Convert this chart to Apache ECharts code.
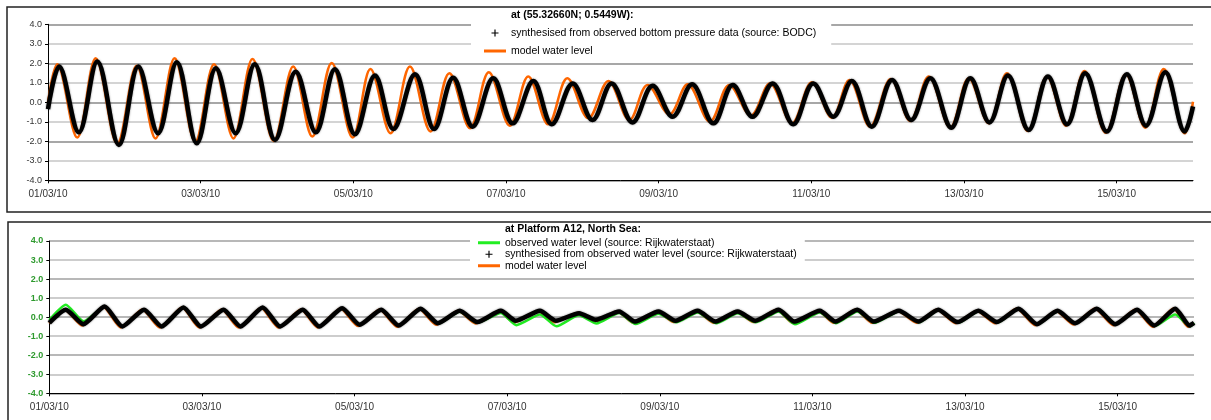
<!DOCTYPE html>
<html>
<head>
<meta charset="utf-8">
<script src="https://cdn.jsdelivr.net/npm/echarts@6/dist/echarts.min.js"></script>
<style>
  html, body { margin: 0; padding: 0; background: #fff; }
  #chart { width: 1211px; height: 420px; }
</style>
</head>
<body>
<div id="chart"></div>
<script>
// Time axis is in hours since 01/03/10 00:00; tide series are [hour, metres].
const tickLabels = ['01/03/10', '03/03/10', '05/03/10', '07/03/10', '09/03/10', '11/03/10', '13/03/10', '15/03/10'];
const hoursPerTick = 48;
const levelTicks = [-4, -3, -2, -1, 0, 1, 2, 3, 4];

const titleTop = 'at (55.32660N; 0.5449W):';
const titleA12 = 'at Platform A12, North Sea:';
const nameSynthTop = 'synthesised from observed bottom pressure data (source: BODC)';
const nameObsA12 = 'observed water level (source: Rijkwaterstaat)';
const nameSynthA12 = 'synthesised from observed water level (source: Rijkwaterstaat)';
const nameModel = 'model water level';

// 55.33N 0.54W: high and low waters
const synthTop = [[0,-0.35],[3.5,1.83],[9.7,-1.54],[15.5,2.09],[22.3,-2.19],[28.4,1.83],[34.6,-1.59],[40.5,2.05],[46.8,-2.10],[52.8,1.74],[59.0,-1.59],[65.0,1.95],[71.4,-1.93],[77.9,1.57],[84.2,-1.54],[90.2,1.70],[96.5,-1.64],[102.8,1.37],[108.6,-1.37],[115.4,1.44],[121.4,-1.37],[127.4,1.26],[133.5,-1.25],[140.0,1.23],[146.1,-1.08],[152.6,1.09],[158.4,-1.13],[165.0,0.97],[171.2,-0.91],[177.2,0.97],[183.8,-1.03],[190.1,0.85],[196.4,-0.74],[202.5,0.92],[209.2,-1.08],[215.3,0.89],[221.5,-0.74],[227.8,0.97],[234.3,-1.13],[240.6,0.97],[246.9,-0.74],[252.7,1.09],[259.0,-1.25],[265.4,1.15],[271.4,-0.91],[277.4,1.23],[284.0,-1.30],[290.0,1.23],[296.0,-1.03],[301.8,1.37],[308.3,-1.42],[314.4,1.32],[320.4,-1.13],[326.1,1.49],[332.9,-1.50],[339.2,1.44],[345.2,-1.20],[351.3,1.54],[357.4,-1.50],[360,-0.22]];
const modelTop = [[0,0.0],[2.9,1.95],[9.2,-1.81],[15.0,2.26],[21.8,-2.12],[27.9,1.88],[33.8,-1.85],[39.8,2.26],[46.3,-2.02],[52.2,1.95],[58.3,-1.85],[64.3,2.22],[71.0,-1.98],[77.1,1.83],[83.1,-1.76],[89.2,2.02],[95.8,-1.81],[101.4,1.71],[107.7,-1.59],[113.8,1.83],[120.3,-1.50],[126.2,1.49],[132.7,-1.33],[138.6,1.54],[145.2,-1.20],[151.0,1.32],[157.3,-1.13],[163.3,1.23],[169.9,-0.82],[176.2,1.09],[182.8,-0.91],[188.5,0.89],[195.4,-0.62],[201.1,0.92],[208.1,-0.99],[214.2,0.89],[221.0,-0.68],[227.0,0.97],[233.9,-1.08],[240.2,1.03],[246.5,-0.79],[252.0,1.15],[258.5,-1.25],[265.0,1.20],[271.1,-0.96],[276.9,1.32],[283.7,-1.30],[289.5,1.23],[295.8,-1.08],[301.5,1.49],[308.1,-1.47],[314.1,1.32],[320.1,-1.20],[325.9,1.61],[332.6,-1.56],[338.9,1.44],[345.0,-1.30],[350.8,1.71],[357.4,-1.59],[360,0.03]];

// Platform A12
const obsA12 = [[0,-0.15],[5.2,0.65],[10.8,-0.22],[17.4,0.55],[23.0,-0.47],[29.8,0.39],[35.3,-0.47],[42.2,0.52],[47.7,-0.47],[54.8,0.40],[60.1,-0.47],[67.1,0.50],[72.6,-0.47],[79.7,0.38],[84.9,-0.47],[92.1,0.46],[97.6,-0.40],[104.4,0.38],[109.9,-0.44],[116.8,0.42],[122.2,-0.35],[129.1,0.28],[134.6,-0.30],[142.0,0.22],[146.9,-0.42],[154.3,0.14],[159.5,-0.48],[166.6,0.10],[172.1,-0.33],[179.2,0.22],[184.4,-0.36],[191.6,0.18],[197.1,-0.27],[203.9,0.25],[209.7,-0.32],[216.5,0.20],[222.2,-0.27],[229.4,0.30],[234.5,-0.37],[242.3,0.25],[247.4,-0.32],[254.1,0.30],[259.5,-0.30],[267.2,0.30],[273.5,-0.27],[279.6,0.36],[285.8,-0.30],[292.2,0.30],[298.2,-0.28],[304.8,0.42],[310.8,-0.38],[317.1,0.30],[322.8,-0.33],[329.6,0.46],[335.4,-0.38],[342.1,0.36],[347.7,-0.46],[354.1,0.14],[358.8,-0.48],[360,-0.30]];
const synthA12 = [[0,-0.30],[5.2,0.39],[10.7,-0.37],[17.4,0.56],[23.0,-0.49],[29.8,0.39],[35.3,-0.49],[42.2,0.51],[47.7,-0.49],[54.8,0.39],[60.1,-0.49],[67.1,0.51],[72.6,-0.49],[79.7,0.39],[84.9,-0.49],[92.1,0.47],[97.6,-0.40],[104.4,0.39],[109.9,-0.44],[116.8,0.44],[122.2,-0.32],[129.1,0.33],[134.6,-0.26],[142.0,0.33],[146.7,-0.19],[154.3,0.33],[159.3,-0.19],[166.6,0.21],[171.9,-0.14],[179.2,0.30],[184.2,-0.23],[191.6,0.30],[196.9,-0.19],[203.9,0.33],[209.5,-0.23],[216.5,0.30],[222.0,-0.19],[229.4,0.39],[234.3,-0.23],[242.3,0.33],[247.2,-0.23],[254.1,0.39],[259.3,-0.23],[267.2,0.33],[273.3,-0.23],[279.6,0.39],[285.6,-0.26],[292.2,0.33],[298.0,-0.26],[304.8,0.44],[310.6,-0.37],[317.1,0.33],[322.6,-0.32],[329.4,0.44],[335.2,-0.37],[342.1,0.39],[347.5,-0.44],[354.1,0.44],[358.6,-0.44],[360,-0.30]];
const modelA12 = [[0,-0.32],[4.8,0.40],[10.3,-0.44],[17.0,0.55],[22.5,-0.54],[29.3,0.40],[34.8,-0.55],[41.8,0.52],[47.2,-0.55],[54.3,0.40],[59.6,-0.55],[66.6,0.50],[72.1,-0.54],[79.2,0.40],[84.4,-0.54],[91.6,0.46],[97.1,-0.47],[103.9,0.40],[109.4,-0.50],[116.3,0.44],[121.7,-0.40],[128.6,0.34],[134.1,-0.33],[141.5,0.32],[146.2,-0.28],[153.8,0.32],[158.8,-0.27],[166.1,0.22],[171.4,-0.22],[178.7,0.30],[183.7,-0.30],[191.1,0.30],[196.4,-0.26],[203.4,0.33],[209.0,-0.30],[216.0,0.30],[221.5,-0.26],[228.9,0.40],[233.8,-0.30],[241.8,0.34],[246.7,-0.30],[253.6,0.40],[258.8,-0.30],[266.7,0.34],[272.8,-0.30],[279.1,0.40],[285.1,-0.32],[291.7,0.34],[297.5,-0.32],[304.3,0.45],[310.1,-0.43],[316.6,0.34],[322.1,-0.38],[328.9,0.46],[334.7,-0.43],[341.6,0.40],[347.0,-0.50],[353.6,0.46],[358.1,-0.50],[360,-0.33]];

const FONT = "'Liberation Sans', Arial, sans-serif";
const ORANGE = '#ff6600';
const GREEN = '#22ee22';
const tickValues = tickLabels.map((_, i) => i * hoursPerTick);
const plusIcon = 'path://M2.5,0H3.5V6H2.5ZM0,2.5H6V3.5H0Z';
const barIcon = 'path://M0,0H22V3H0Z';

function timeAxis(gridIndex) {
  return {
    gridIndex, type: 'value', min: 0, max: 360, interval: hoursPerTick,
    axisLine: { onZero: false, lineStyle: { color: '#000', width: 1 } },
    axisTick: { length: 3, customValues: tickValues, lineStyle: { color: '#000' } },
    axisLabel: {
      customValues: tickValues,
      formatter: v => tickLabels[Math.round(v / hoursPerTick)],
      fontSize: 10, color: '#333', margin: 9, fontFamily: FONT
    },
    splitLine: { show: false }
  };
}

function levelAxis(gridIndex, labelStyle, gridColors) {
  return {
    gridIndex, type: 'value',
    min: levelTicks[0], max: levelTicks[levelTicks.length - 1], interval: 1,
    axisLine: { show: true, lineStyle: { color: '#000', width: 1 } },
    axisTick: { show: true, length: 3, lineStyle: { color: '#000' } },
    axisLabel: Object.assign({ formatter: v => v.toFixed(1), fontSize: 9, margin: 6, fontFamily: FONT }, labelStyle),
    splitLine: { show: true, lineStyle: { color: gridColors, width: 1.5 } }
  };
}

function tideLine(name, data, idx, color, width, smooth, extra) {
  return Object.assign({
    type: 'line', name, data, xAxisIndex: idx, yAxisIndex: idx,
    smooth, showSymbol: false, symbol: 'none',
    lineStyle: { color, width },
    itemStyle: { color },
    emphasis: { disabled: true }
  }, extra || {});
}

// the dense "+" markers read as a thick, slightly fuzzy black band
const markerBand = { color: '#000', width: 4.5, shadowBlur: 2, shadowColor: 'rgba(0,0,0,0.5)' };

const chart = echarts.init(document.getElementById('chart'), null, { renderer: 'canvas' });
chart.setOption({
  animation: false,
  backgroundColor: '#fff',
  graphic: [
    { type: 'rect', shape: { x: 7, y: 7, width: 1215, height: 205 }, style: { fill: 'none', stroke: '#222', lineWidth: 1.5 }, z: 100 },
    { type: 'rect', shape: { x: 8, y: 222, width: 1215, height: 210 }, style: { fill: 'none', stroke: '#222', lineWidth: 1.5 }, z: 100 }
  ],
  title: [
    { text: titleTop, left: 511, top: 10, padding: 0, textStyle: { fontSize: 10.5, fontWeight: 'bold', color: '#000', fontFamily: FONT } },
    { text: titleA12, left: 505, top: 224, padding: 0, textStyle: { fontSize: 10.5, fontWeight: 'bold', color: '#000', fontFamily: FONT } }
  ],
  legend: [
    {
      left: 471, top: 8, orient: 'vertical', backgroundColor: '#fff',
      padding: [18, 15, 2, 13], itemWidth: 22, itemHeight: 7, itemGap: 4,
      selectedMode: false,
      textStyle: { fontSize: 10.5, color: '#000', fontFamily: FONT, lineHeight: 14 },
      data: [{ name: nameSynthTop, icon: plusIcon }, { name: nameModel, icon: barIcon }]
    },
    {
      left: 470, top: 223, orient: 'vertical', backgroundColor: '#fff',
      padding: [14, 8, 3, 8], itemWidth: 22, itemHeight: 7, itemGap: 0,
      selectedMode: false,
      textStyle: { fontSize: 10.5, color: '#000', fontFamily: FONT, lineHeight: 11.5 },
      data: [{ name: nameObsA12, icon: barIcon }, { name: nameSynthA12, icon: plusIcon }, { name: nameModel, icon: barIcon }]
    }
  ],
  grid: [
    { left: 48, right: 18, top: 24.3, height: 156 },
    { left: 49.3, right: 17, top: 241, height: 152.3 }
  ],
  xAxis: [timeAxis(0), timeAxis(1)],
  yAxis: [
    levelAxis(0, { color: '#333' }, ['#8a8a8a', '#c6c6c6']),
    levelAxis(1, { color: '#2e9a2e', fontWeight: 'bold' }, ['#a0a0a0', '#bdbdbd'])
  ],
  series: [
    tideLine(nameModel, modelTop, 0, ORANGE, 2.5, 0.36),
    tideLine(nameSynthTop, synthTop, 0, '#000', 4.5, 0.36, { lineStyle: markerBand }),
    tideLine(nameModel, modelA12, 1, ORANGE, 2.5, 0.2),
    tideLine(nameObsA12, obsA12, 1, GREEN, 2.5, 0.2),
    tideLine(nameSynthA12, synthA12, 1, '#000', 4.5, 0.2, { lineStyle: markerBand })
  ]
});
</script>
</body>
</html>
